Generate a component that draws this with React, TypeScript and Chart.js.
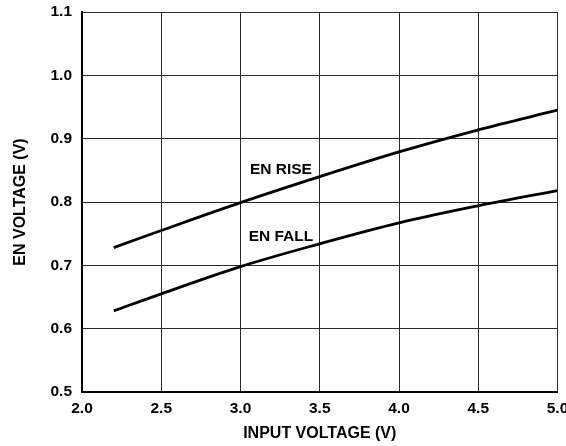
import React, { useEffect, useRef } from "react";
import { Chart, registerables } from "chart.js";

Chart.register(...registerables);

const inputVoltage = [2.2, 2.5, 3.0, 3.5, 4.0, 4.5, 5.0];
const enRise = [0.728, 0.755, 0.799, 0.84, 0.879, 0.914, 0.945];
const enFall = [0.628, 0.655, 0.698, 0.734, 0.767, 0.794, 0.818];
const curveLabels = ["EN RISE", "EN FALL"];
const labelX = [3.255, 3.255];
const labelY = [0.8515, 0.7458];

const FONT = "'Liberation Sans', Arial, sans-serif";

const labelPlugin = {
  id: "curveLabels",
  afterDatasetsDraw(chart: any) {
    const { ctx, scales } = chart;
    ctx.save();
    ctx.font = `bold 15.5px ${FONT}`;
    ctx.fillStyle = "#000";
    ctx.textAlign = "center";
    ctx.textBaseline = "middle";
    curveLabels.forEach((t, i) => {
      ctx.fillText(t, scales.x.getPixelForValue(labelX[i]), scales.y.getPixelForValue(labelY[i]));
    });
    ctx.restore();
  },
};

export default function App() {
  const ref = useRef<HTMLCanvasElement>(null);
  useEffect(() => {
    document.body.style.margin = "0";
    const toPts = (ys: number[]) => inputVoltage.map((x, i) => ({ x, y: ys[i] }));
    const chart = new Chart(ref.current!, {
      type: "line",
      data: {
        datasets: [
          { label: curveLabels[0], data: toPts(enRise), borderColor: "#000", borderWidth: 2.8, pointRadius: 0, tension: 0.35 },
          { label: curveLabels[1], data: toPts(enFall), borderColor: "#000", borderWidth: 2.8, pointRadius: 0, tension: 0.35 },
        ],
      },
      options: {
        animation: false,
        responsive: false,
        layout: { padding: { top: 12, right: 8.5, left: 0, bottom: 0 } },
        plugins: { legend: { display: false }, tooltip: { enabled: false } },
        scales: {
          x: {
            type: "linear",
            min: 2,
            max: 5,
            ticks: {
              stepSize: 0.5,
              padding: 7,
              color: "#000",
              font: { family: FONT, size: 15.5, weight: "bold" },
              callback: (v: any) => Number(v).toFixed(1),
              maxRotation: 0,
            },
            grid: { color: "#2a2a2a", lineWidth: 1, drawTicks: false },
            border: { color: "#000", width: 2 },
            title: {
              display: true,
              text: "INPUT VOLTAGE (V)",
              color: "#000",
              font: { family: FONT, size: 16, weight: "bold" },
              padding: { top: 0, bottom: 3 },
            },
            afterFit: (s: any) => {
              s.height = 54;
              s.paddingLeft = 0;
              s.paddingRight = 0;
            },
          },
          y: {
            min: 0.5,
            max: 1.1,
            ticks: {
              stepSize: 0.1,
              padding: 10,
              color: "#000",
              font: { family: FONT, size: 15.5, weight: "bold" },
              callback: (v: any) => Number(v).toFixed(1),
            },
            grid: { color: "#2a2a2a", lineWidth: 1, drawTicks: false },
            border: { color: "#000", width: 2 },
            title: {
              display: true,
              text: "EN VOLTAGE (V)",
              color: "#000",
              font: { family: FONT, size: 16, weight: "bold" },
              padding: { top: 11.4, bottom: 0 },
            },
            afterFit: (s: any) => {
              s.width = 82;
              s.paddingTop = 0;
              s.paddingBottom = 0;
            },
          },
        },
      },
      plugins: [labelPlugin],
    } as any);
    return () => chart.destroy();
  }, []);
  return <canvas ref={ref} width={566} height={446} style={{ display: "block" }} />;
}
